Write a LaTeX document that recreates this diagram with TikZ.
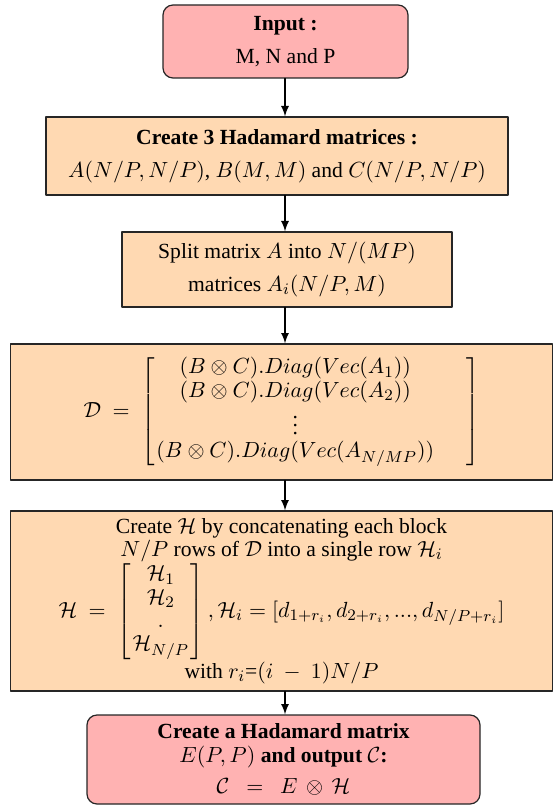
\documentclass[tikz,border=0pt]{standalone}
\usepackage{fontspec}
\setmainfont{Liberation Serif}
\usetikzlibrary{calc}

\begin{document}
\begin{tikzpicture}[x=0.5pt, y=-0.5pt, line join=round, line cap=round,
    stepbox/.style={draw=black!85, line width=0.6pt, fill=orange!30, align=center, inner sep=2pt,
        font=\fontsize{10.8}{11.6}\selectfont},
    endbox/.style={stepbox, fill=red!30, rounded corners=5pt}]
    \useasboundingbox (0,0) rectangle (553,806);
    \coordinate (ax) at (285,0);
    \arraycolsep=1pt

    % start and first steps
    \node[endbox, minimum width=122.5pt, minimum height=36.5pt] (input) at (285.5,41.5)
        {\textbf{Input :}\\[5pt] M, N and P};
    \node[stepbox, minimum width=231pt, minimum height=39pt] (hadam) at (277,156)
        {\textbf{Create 3 Hadamard matrices :}\\[5pt]
         $A(N/P,N/P)$, $B(M,M)$ and $C(N/P,N/P)$};
    \node[stepbox, minimum width=165pt, minimum height=37.5pt] (split) at (287,269.5)
        {Split matrix $A$ into $N/(MP)$\\[5pt] matrices $A_i(N/P,M)$};

    % the big matrix D
    \node[stepbox, minimum width=271pt, minimum height=68pt] (dmat) at (281.5,412)
        {$\mathcal{D}\ =\ \left[\begin{array}{c@{\hspace{16pt}}}
            (B\otimes C).Diag(Vec(A_1))\\
            (B\otimes C).Diag(Vec(A_2))\\
            \vdots\\
            (B\otimes C).Diag(Vec(A_{N/MP}))
         \end{array}\right]$};

    \node[stepbox, minimum width=271pt, minimum height=90pt] (hmat) at (281.5,601)
        {Create $\mathcal{H}$ by concatenating each block\\
         $N/P$ rows of $\mathcal{D}$ into a single row $\mathcal{H}_i$\\
         $\mathcal{H}\ =\ \left[\begin{array}{c}
            \mathcal{H}_1\\ \mathcal{H}_2\\ .\\ \mathcal{H}_{N/P}
         \end{array}\right], \mathcal{H}_i = [d_{1+r_i},d_{2+r_i},...,d_{N/P+r_i}]$\\
         with $r_i$=$(i\ -\ 1)N/P$};

    \node[endbox, minimum width=196.5pt, minimum height=44.5pt] (output) at (283.5,759.5)
        {\textbf{Create a Hadamard matrix}\\
         $E(P,P)$ \textbf{and output} $\mathcal{C}$\textbf{:}\\[4pt]
         $\mathcal{C}\ \ =\ \ E\,\otimes\,\mathcal{H}$};

    \foreach \a/\b in {input/hadam, hadam/split, split/dmat, dmat/hmat, hmat/output}
        \draw[-latex, line width=0.8pt] (ax |- \a.south) -- (ax |- \b.north);
\end{tikzpicture}
\end{document}
